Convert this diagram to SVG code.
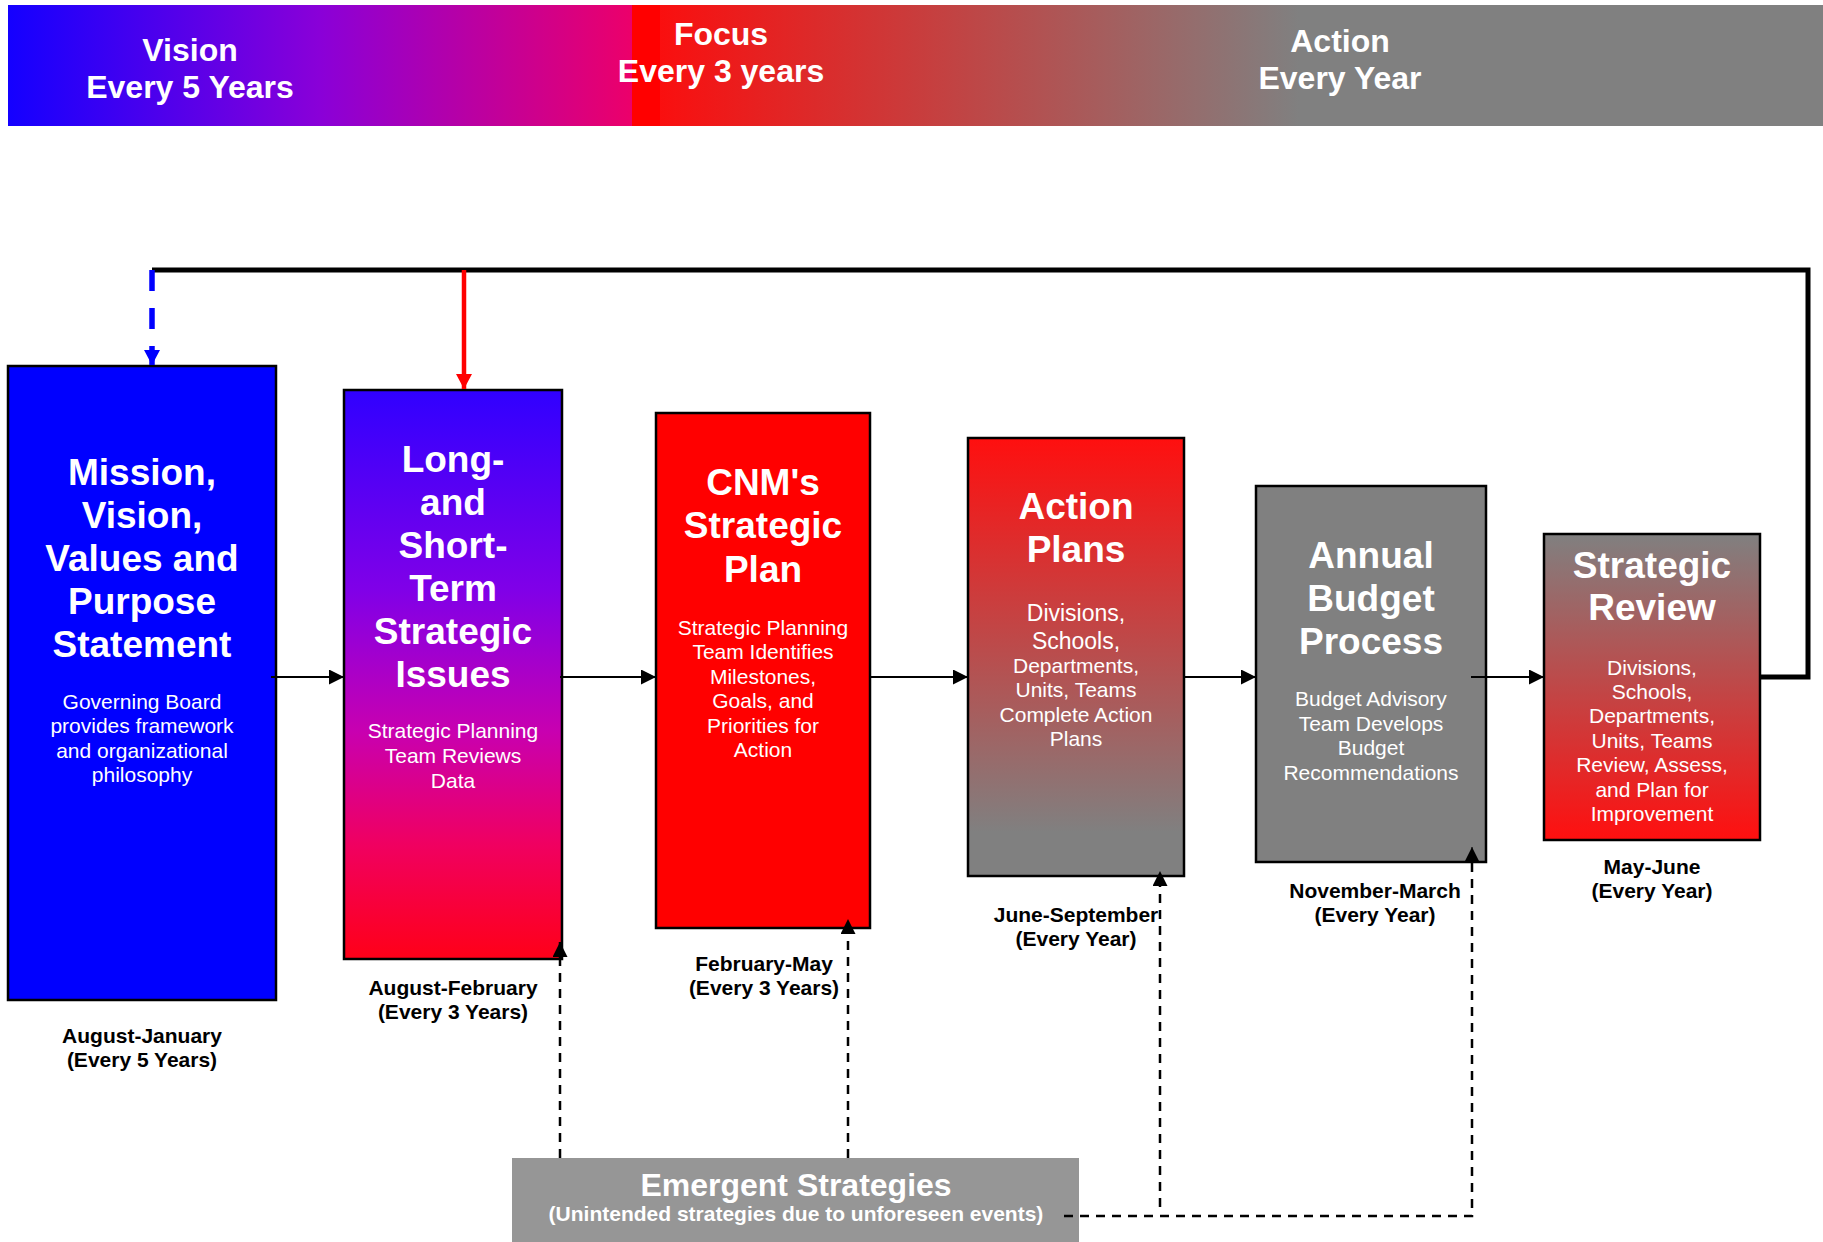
<svg xmlns="http://www.w3.org/2000/svg" width="1823" height="1242" viewBox="0 0 1823 1242">
<style>
text{font-family:"Liberation Sans",Arial,sans-serif;text-anchor:middle}
.hdr{font-weight:bold;font-size:32px;fill:#fff}
.title{font-weight:bold;font-size:37px;fill:#fff}
.sub{font-size:21px;fill:#fff}
.sub23{font-size:23px;fill:#fff}
.lbl{font-weight:bold;font-size:21px;fill:#000}
.box{stroke:#000;stroke-width:2.5}
.flow{stroke:#000;stroke-width:2;fill:none}
.dash{stroke:#000;stroke-width:2.5;fill:none;stroke-dasharray:9 7}
.loop{stroke:#000;stroke-width:5;fill:none}
</style>
<defs>
<linearGradient id="gBan1" x1="0" y1="0" x2="1" y2="0">
<stop offset="0" stop-color="#1400ff"/>
<stop offset="0.5" stop-color="#8a00d8"/>
<stop offset="1" stop-color="#ec006a"/>
</linearGradient>
<linearGradient id="gBan2" x1="632" y1="0" x2="1823" y2="0" gradientUnits="userSpaceOnUse">
<stop offset="0" stop-color="#ff0a0a"/>
<stop offset="0.56" stop-color="#808080"/>
<stop offset="1" stop-color="#808080"/>
</linearGradient>
<linearGradient id="gLong" x1="0" y1="0" x2="0" y2="1">
<stop offset="0" stop-color="#3000ff"/>
<stop offset="0.35" stop-color="#8000e8"/>
<stop offset="0.6" stop-color="#c800b0"/>
<stop offset="0.8" stop-color="#f00060"/>
<stop offset="1" stop-color="#ff0018"/>
</linearGradient>
<linearGradient id="gAct" x1="0" y1="0" x2="0" y2="1">
<stop offset="0" stop-color="#ff0f0f"/>
<stop offset="0.9" stop-color="#808080"/>
<stop offset="1" stop-color="#808080"/>
</linearGradient>
<linearGradient id="gRev" x1="0" y1="0" x2="0" y2="1">
<stop offset="0" stop-color="#808080"/>
<stop offset="1" stop-color="#ff0f0f"/>
</linearGradient>
<marker id="ah" markerUnits="userSpaceOnUse" markerWidth="16" markerHeight="15" refX="15" refY="7.5" orient="auto">
<path d="M0,0 L15,7.5 L0,15 z" fill="#000"/>
</marker>
<marker id="ahB" markerUnits="userSpaceOnUse" markerWidth="16" markerHeight="16" refX="15" refY="8" orient="auto">
<path d="M0,0 L15,8 L0,16 z" fill="#0000ff"/>
</marker>
<marker id="ahR" markerUnits="userSpaceOnUse" markerWidth="16" markerHeight="16" refX="15" refY="8" orient="auto">
<path d="M0,0 L15,8 L0,16 z" fill="#ff0000"/>
</marker>
</defs>

<g id="banner">
<rect x="8" y="5" width="624" height="121" fill="url(#gBan1)"/>
<rect x="632" y="5" width="1191" height="121" fill="url(#gBan2)"/>
<rect x="632" y="5" width="28" height="121" fill="#ff0000"/>
<text class="hdr" x="190" y="61">Vision</text>
<text class="hdr" x="190" y="98">Every 5 Years</text>
<text class="hdr" x="721" y="45">Focus</text>
<text class="hdr" x="721" y="82">Every 3 years</text>
<text class="hdr" x="1340" y="52">Action</text>
<text class="hdr" x="1340" y="89">Every Year</text>
</g>

<g id="mission">
<rect class="box" x="8" y="366" width="268" height="634" fill="#0000ff"/>
<text class="title" x="142" y="485">Mission,</text>
<text class="title" x="142" y="528">Vision,</text>
<text class="title" x="142" y="571">Values and</text>
<text class="title" x="142" y="614">Purpose</text>
<text class="title" x="142" y="657">Statement</text>
<text class="sub" x="142" y="709">Governing Board</text>
<text class="sub" x="142" y="733">provides framework</text>
<text class="sub" x="142" y="758">and organizational</text>
<text class="sub" x="142" y="782">philosophy</text>
<text class="lbl" x="142" y="1043">August-January</text>
<text class="lbl" x="142" y="1067">(Every 5 Years)</text>
</g>

<g id="longterm">
<rect class="box" x="344" y="390" width="218" height="569" fill="url(#gLong)"/>
<text class="title" x="453" y="472">Long-</text>
<text class="title" x="453" y="515">and</text>
<text class="title" x="453" y="558">Short-</text>
<text class="title" x="453" y="601">Term</text>
<text class="title" x="453" y="644">Strategic</text>
<text class="title" x="453" y="687">Issues</text>
<text class="sub" x="453" y="738">Strategic Planning</text>
<text class="sub" x="453" y="763">Team Reviews</text>
<text class="sub" x="453" y="788">Data</text>
<text class="lbl" x="453" y="995">August-February</text>
<text class="lbl" x="453" y="1019">(Every 3 Years)</text>
</g>

<g id="cnm">
<rect class="box" x="656" y="413" width="214" height="515" fill="#ff0000"/>
<text class="title" x="763" y="495">CNM's</text>
<text class="title" x="763" y="538">Strategic</text>
<text class="title" x="763" y="582">Plan</text>
<text class="sub" x="763" y="635">Strategic Planning</text>
<text class="sub" x="763" y="659">Team Identifies</text>
<text class="sub" x="763" y="684">Milestones,</text>
<text class="sub" x="763" y="708">Goals, and</text>
<text class="sub" x="763" y="733">Priorities for</text>
<text class="sub" x="763" y="757">Action</text>
<text class="lbl" x="764" y="971">February-May</text>
<text class="lbl" x="764" y="995">(Every 3 Years)</text>
</g>

<g id="actionplans">
<rect class="box" x="968" y="438" width="216" height="438" fill="url(#gAct)"/>
<text class="title" x="1076" y="519">Action</text>
<text class="title" x="1076" y="562">Plans</text>
<text class="sub23" x="1076" y="621">Divisions,</text>
<text class="sub23" x="1076" y="649">Schools,</text>
<text class="sub" x="1076" y="673">Departments,</text>
<text class="sub" x="1076" y="697">Units, Teams</text>
<text class="sub" x="1076" y="722">Complete Action</text>
<text class="sub" x="1076" y="746">Plans</text>
<text class="lbl" x="1076" y="922">June-September</text>
<text class="lbl" x="1076" y="946">(Every Year)</text>
</g>

<g id="budget">
<rect class="box" x="1256" y="486" width="230" height="376" fill="#808080"/>
<text class="title" x="1371" y="568">Annual</text>
<text class="title" x="1371" y="611">Budget</text>
<text class="title" x="1371" y="654">Process</text>
<text class="sub" x="1371" y="706">Budget Advisory</text>
<text class="sub" x="1371" y="731">Team Develops</text>
<text class="sub" x="1371" y="755">Budget</text>
<text class="sub" x="1371" y="780">Recommendations</text>
<text class="lbl" x="1375" y="898">November-March</text>
<text class="lbl" x="1375" y="922">(Every Year)</text>
</g>

<g id="review">
<rect class="box" x="1544" y="534" width="216" height="306" fill="url(#gRev)"/>
<text class="title" x="1652" y="578">Strategic</text>
<text class="title" x="1652" y="620">Review</text>
<text class="sub" x="1652" y="675">Divisions,</text>
<text class="sub" x="1652" y="699">Schools,</text>
<text class="sub" x="1652" y="723">Departments,</text>
<text class="sub" x="1652" y="748">Units, Teams</text>
<text class="sub" x="1652" y="772">Review, Assess,</text>
<text class="sub" x="1652" y="797">and Plan for</text>
<text class="sub" x="1652" y="821">Improvement</text>
<text class="lbl" x="1652" y="874">May-June</text>
<text class="lbl" x="1652" y="898">(Every Year)</text>
</g>

<g id="emergent">
<rect x="512" y="1158" width="567" height="84" fill="#969696"/>
<text x="796" y="1196" font-weight="bold" font-size="32" fill="#fff">Emergent Strategies</text>
<text x="796" y="1221" font-weight="bold" font-size="21" fill="#fff">(Unintended strategies due to unforeseen events)</text>
</g>

<g id="connectors">
<path class="loop" d="M1760,677 H1808 V270 H152"/>
<line x1="152" y1="270" x2="152" y2="365" stroke="#0000ff" stroke-width="5.5" stroke-dasharray="21 17" marker-end="url(#ahB)"/>
<line x1="464" y1="270" x2="464" y2="389" stroke="#ff0000" stroke-width="4.5" marker-end="url(#ahR)"/>
<line class="flow" x1="271" y1="677" x2="344" y2="677" marker-end="url(#ah)"/>
<line class="flow" x1="560" y1="677" x2="656" y2="677" marker-end="url(#ah)"/>
<line class="flow" x1="870" y1="677" x2="968" y2="677" marker-end="url(#ah)"/>
<line class="flow" x1="1184" y1="677" x2="1256" y2="677" marker-end="url(#ah)"/>
<line class="flow" x1="1471" y1="677" x2="1544" y2="677" marker-end="url(#ah)"/>
<line class="dash" x1="560" y1="1158" x2="560" y2="942" marker-end="url(#ah)"/>
<line class="dash" x1="848" y1="1158" x2="848" y2="919" marker-end="url(#ah)"/>
<line class="dash" x1="1160" y1="1207" x2="1160" y2="871" marker-end="url(#ah)"/>
<path class="dash" d="M1064,1216 H1472 V860"/>
<line x1="1472" y1="862" x2="1472" y2="847" stroke="#000" stroke-width="1" marker-end="url(#ah)"/>
</g>
</svg>
